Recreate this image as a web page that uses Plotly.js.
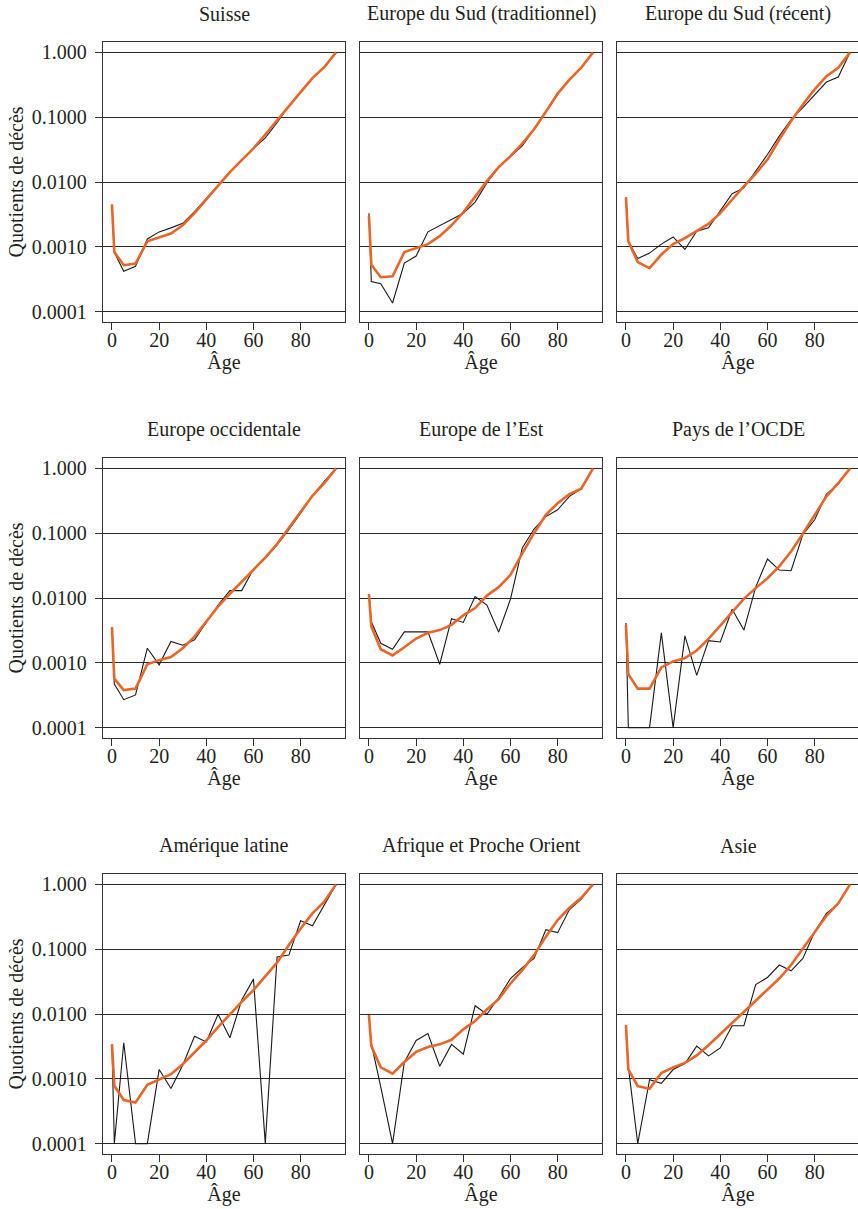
<!DOCTYPE html>
<html>
<head>
<meta charset="utf-8">
<script src="https://cdn.plot.ly/plotly-3.0.1.min.js"></script>
<style>
  html, body { margin: 0; padding: 0; background: #fff; overflow: hidden; }
  #chart { width: 860px; height: 1209px; }
</style>
</head>
<body>
<div id="chart"></div>
<script>
// ---- Data ----
const ages = [0, 1, 5, 10, 15, 20, 25, 30, 35, 40, 45, 50, 55, 60, 65, 70, 75, 80, 85, 90, 95];

const panelTitles = ["Suisse", "Europe du Sud (traditionnel)", "Europe du Sud (récent)",
  "Europe occidentale", "Europe de l\u2019Est", "Pays de l\u2019OCDE",
  "Amérique latine", "Afrique et Proche Orient", "Asie"];

const yTickVals = [0.0001, 0.001, 0.01, 0.1, 1];
const yTickText = ["0.0001", "0.0010", "0.0100", "0.1000", "1.000"];
const xTickVals = [0, 20, 40, 60, 80];

// observed (black) and smoothed (orange) death quotients
const suisseObs    = [0.0045, 0.00082, 0.00042, 0.00050, 0.00132, 0.0017, 0.00196, 0.0023, 0.0035, 0.0056, 0.0090, 0.0142, 0.0218, 0.033, 0.048, 0.082, 0.148, 0.244, 0.40, 0.59, 1.0];
const suisseLisse  = [0.0045, 0.00083, 0.00052, 0.00055, 0.00122, 0.0014, 0.0016, 0.00215, 0.0033, 0.0054, 0.0088, 0.0142, 0.0218, 0.033, 0.054, 0.090, 0.152, 0.244, 0.40, 0.59, 1.0];

const sudTradObs   = [0.0033, 0.00029, 0.00027, 0.000136, 0.00056, 0.00072, 0.0017, 0.0021, 0.0026, 0.0033, 0.0049, 0.0097, 0.017, 0.0251, 0.036, 0.065, 0.121, 0.24, 0.38, 0.58, 1.0];
const sudTradLisse = [0.00297, 0.00053, 0.00034, 0.00035, 0.00083, 0.00096, 0.0011, 0.00146, 0.00215, 0.0034, 0.0060, 0.0103, 0.0170, 0.0251, 0.039, 0.065, 0.121, 0.23, 0.38, 0.58, 1.0];

const sudRecObs    = [0.0058, 0.00122, 0.00066, 0.00080, 0.0011, 0.00142, 0.00091, 0.00174, 0.00196, 0.00355, 0.0066, 0.0081, 0.0147, 0.0266, 0.051, 0.092, 0.14, 0.224, 0.348, 0.416, 1.0];
const sudRecLisse  = [0.0058, 0.00122, 0.00058, 0.00047, 0.00076, 0.0011, 0.00136, 0.00174, 0.00226, 0.0033, 0.0054, 0.0086, 0.0135, 0.0222, 0.045, 0.087, 0.157, 0.268, 0.43, 0.58, 1.0];

const occObs       = [0.00355, 0.00047, 0.00027, 0.00032, 0.00168, 0.00093, 0.00213, 0.00187, 0.00226, 0.0043, 0.0078, 0.013, 0.013, 0.028, 0.041, 0.066, 0.113, 0.204, 0.378, 0.63, 1.0];
const occLisse     = [0.00355, 0.00057, 0.00038, 0.0004, 0.00095, 0.0011, 0.00123, 0.00168, 0.00254, 0.0043, 0.0074, 0.0116, 0.018, 0.0272, 0.042, 0.068, 0.12, 0.217, 0.378, 0.59, 1.0];

const estObs       = [0.0115, 0.0043, 0.002, 0.00162, 0.003, 0.003, 0.003, 0.00095, 0.0048, 0.0042, 0.0105, 0.0078, 0.00297, 0.0096, 0.059, 0.116, 0.18, 0.23, 0.37, 0.485, 1.0];
const estLisse     = [0.0115, 0.00363, 0.00162, 0.0013, 0.00174, 0.00237, 0.0029, 0.0032, 0.00385, 0.0054, 0.0070, 0.0109, 0.0147, 0.0228, 0.049, 0.10, 0.192, 0.29, 0.40, 0.485, 1.0];

const ocdeObs      = [0.0041, 0.0001, 0.0001, 0.0001, 0.0029, 0.0001, 0.0026, 0.00064, 0.0022, 0.0021, 0.0067, 0.0032, 0.0147, 0.040, 0.027, 0.0263, 0.095, 0.161, 0.40, 0.57, 1.0];
const ocdeLisse    = [0.0038, 0.00067, 0.0004, 0.0004, 0.00085, 0.00105, 0.00118, 0.00155, 0.00234, 0.0038, 0.0062, 0.0097, 0.0142, 0.0202, 0.0307, 0.052, 0.098, 0.192, 0.37, 0.59, 1.0];

const amLatObs     = [0.0034, 0.0001, 0.0036, 0.0001, 0.0001, 0.00139, 0.00071, 0.00162, 0.00455, 0.0037, 0.0099, 0.0043, 0.0164, 0.0345, 0.0001, 0.076, 0.081, 0.275, 0.23, 0.48, 1.0];
const amLatLisse   = [0.0034, 0.00078, 0.00047, 0.00043, 0.00081, 0.00099, 0.00118, 0.00168, 0.0026, 0.0039, 0.0063, 0.0099, 0.0154, 0.0233, 0.0375, 0.062, 0.116, 0.209, 0.356, 0.54, 1.0];

const afriqueObs   = [0.0096, 0.0035, 0.00075, 0.0001, 0.0018, 0.0039, 0.005, 0.00156, 0.0034, 0.0024, 0.0134, 0.0099, 0.018, 0.0353, 0.052, 0.072, 0.20, 0.18, 0.41, 0.59, 1.0];
const afriqueLisse = [0.0096, 0.0032, 0.0015, 0.0012, 0.00182, 0.0026, 0.0031, 0.0034, 0.004, 0.0058, 0.0078, 0.0117, 0.0169, 0.0296, 0.0475, 0.081, 0.156, 0.281, 0.436, 0.62, 1.0];

const asieObs      = [0.0067, 0.00153, 0.0001, 0.00097, 0.00085, 0.00139, 0.00172, 0.0032, 0.00226, 0.003, 0.0066, 0.0066, 0.0285, 0.0366, 0.057, 0.0464, 0.072, 0.186, 0.356, 0.50, 1.0];
const asieLisse    = [0.0067, 0.0014, 0.00077, 0.0007, 0.00123, 0.0015, 0.00176, 0.0023, 0.0033, 0.0049, 0.0073, 0.0108, 0.016, 0.0233, 0.0353, 0.057, 0.103, 0.186, 0.328, 0.51, 1.0];

const observedSeries = [suisseObs, sudTradObs, sudRecObs, occObs, estObs, ocdeObs, amLatObs, afriqueObs, asieObs];
const smoothedSeries = [suisseLisse, sudTradLisse, sudRecLisse, occLisse, estLisse, ocdeLisse, amLatLisse, afriqueLisse, asieLisse];

// ---- Layout geometry ----
const W = 860, H = 1209;
const colPx = [[103, 345], [360, 602], [617, 859]];
const rowPx = [[42, 322], [458, 738], [874, 1154]];

const FONT = 'Liberation Serif, Times New Roman, serif';
const TXT = '#231f20';
const LINE = '#333333';

const traces = [];
const layout = {
  width: W, height: H,
  margin: {l: 0, r: 0, t: 0, b: 0},
  paper_bgcolor: '#ffffff',
  plot_bgcolor: '#ffffff',
  showlegend: false,
  font: {family: FONT, size: 20, color: TXT},
  annotations: []
};

for (let i = 0; i < 9; i++) {
  const r = Math.floor(i / 3), c = i % 3;
  const sfx = i === 0 ? '' : String(i + 1);
  const xa = 'x' + sfx, ya = 'y' + sfx;

  traces.push({
    x: ages, y: observedSeries[i], xaxis: xa, yaxis: ya,
    type: 'scatter', mode: 'lines',
    line: {color: '#1a1a1a', width: 1.1},
    hoverinfo: 'skip'
  });
  traces.push({
    x: ages, y: smoothedSeries[i], xaxis: xa, yaxis: ya,
    type: 'scatter', mode: 'lines',
    line: {color: '#EA6526', width: 2.6},
    hoverinfo: 'skip'
  });

  layout['xaxis' + sfx] = {
    domain: [colPx[c][0] / W, colPx[c][1] / W],
    anchor: ya,
    range: [-3.8, 98.8],
    tickvals: xTickVals,
    ticktext: xTickVals.map(String),
    ticks: 'outside', ticklen: 7, tickwidth: 1, tickcolor: LINE,
    ticklabelstandoff: -7,
    showgrid: false, zeroline: false,
    showline: true, mirror: true, linecolor: LINE, linewidth: 1.2,
    tickfont: {family: FONT, size: 20, color: TXT},
    title: {text: 'Âge', font: {family: FONT, size: 20, color: TXT}, standoff: 3},
    fixedrange: true
  };
  const yax = {
    domain: [1 - rowPx[r][1] / H, 1 - rowPx[r][0] / H],
    anchor: xa,
    type: 'log',
    range: [-4.16, 0.16],
    tickvals: yTickVals,
    ticktext: yTickText,
    showgrid: true, gridcolor: '#2a2a2a', gridwidth: 1,
    zeroline: false,
    showline: true, mirror: true, linecolor: LINE, linewidth: 1.2,
    tickfont: {family: FONT, size: 20, color: TXT},
    fixedrange: true
  };
  if (c === 0) {
    yax.ticks = 'outside'; yax.ticklen = 7; yax.tickwidth = 1; yax.tickcolor = LINE;
    yax.showticklabels = true;
    yax.ticklabelstandoff = 4;
    yax.title = {text: 'Quotients de décès', font: {family: FONT, size: 20, color: TXT}, standoff: 2};
  } else {
    yax.ticks = '';
    yax.showticklabels = false;
  }
  layout['yaxis' + sfx] = yax;

  layout.annotations.push({
    text: panelTitles[i],
    xref: xa + ' domain', yref: ya + ' domain',
    x: 0.5, y: 1, xanchor: 'center', yanchor: 'bottom',
    yshift: 15, showarrow: false,
    font: {family: FONT, size: 20, color: TXT}
  });
}

Plotly.newPlot('chart', traces, layout, {staticPlot: true, displayModeBar: false});
</script>
</body>
</html>
